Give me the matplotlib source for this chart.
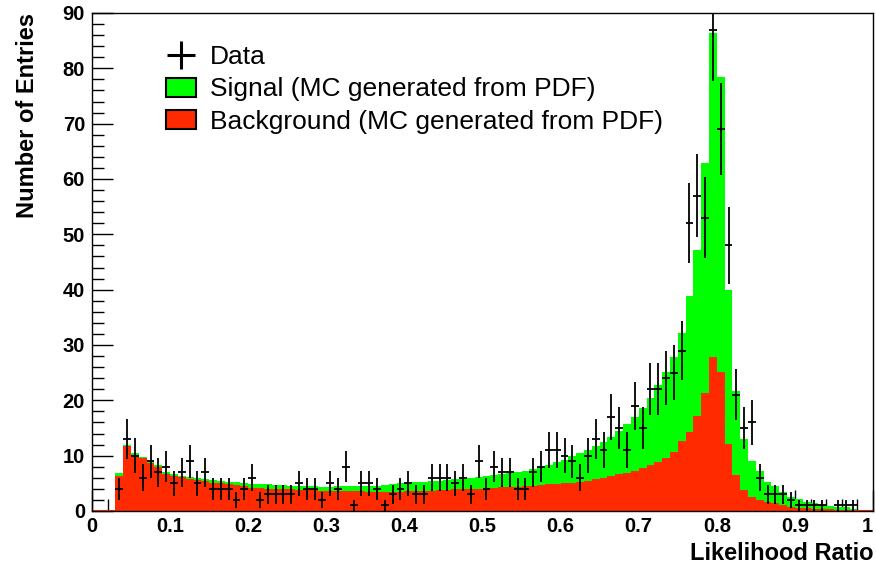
import numpy as np
import matplotlib.pyplot as plt
from matplotlib.lines import Line2D
from matplotlib.patches import Patch
from matplotlib.ticker import MultipleLocator, FixedLocator, FixedFormatter

# histogram binning: bins of 0.01 starting at 0.03
bin_width = 0.01
first_edge = 0.03

# data counts per bin (0.03 ... 0.99)
data_counts = [4, 13, 10, 6, 9, 7, 8, 5, 7, 9, 5, 7, 4, 4, 4, 2, 4,
               6, 2, 3, 3, 3, 3, 5, 4, 4, 2, 5, 4, 8, 1, 5, 5, 4, 1, 3,
               4, 5, 3, 3, 6, 6, 6, 5, 6, 3, 9, 4, 8, 7, 7, 4, 4, 7, 8,
               11, 11, 10, 9, 6, 10, 13, 11, 17, 15, 11, 19, 15, 22, 22, 24, 25, 29,
               52, 57, 53, 87, 69, 48, 21, 15, 16, 6, 3, 3, 3, 2, 1, 1, 1, 1, 0, 1, 1, 1, 0, 0]

# signal + background MC (top of green stack)
mc_total = [6.8, 12.0, 10.4, 9.8, 9.0, 8.3, 7.0, 6.6, 6.4, 6.1, 5.9, 5.8, 5.6, 5.5, 5.3, 5.2, 5.1,
            4.9, 4.8, 4.8, 4.7, 4.7, 4.6, 4.6, 4.6, 4.5, 4.4, 4.4, 4.5, 4.6, 4.6, 4.6, 4.5, 4.6, 4.7, 4.8,
            5.0, 5.1, 5.2, 5.3, 5.4, 5.5, 5.6, 5.8, 5.9, 6.0, 6.1, 6.3, 6.5, 6.7, 6.9, 7.1, 7.3, 7.6, 8.0,
            8.4, 8.8, 9.3, 9.9, 10.4, 11.0, 11.7, 12.4, 13.3, 14.4, 15.7, 17.0, 18.6, 20.5, 22.8, 25.2, 27.8, 32.2,
            38.8, 47.2, 62.9, 86.4, 78.4, 40.0, 21.6, 13.0, 9.0, 7.2, 5.3, 4.6, 3.5, 2.6, 2.1, 1.7, 1.4, 1.1,
            0.9, 0.8, 0.7, 0.4, 0.2, 0.1]

# background MC
background = [6.4, 11.8, 10.0, 9.6, 8.6, 8.0, 6.7, 6.3, 6.1, 5.8, 5.6, 5.4, 5.1, 5.0, 4.8, 4.7, 4.6,
              4.2, 4.1, 4.0, 4.0, 3.9, 3.9, 3.8, 3.8, 3.8, 3.7, 3.7, 3.7, 3.6, 3.6, 3.6, 3.5, 3.5, 3.5, 3.5,
              3.5, 3.6, 3.6, 3.7, 3.7, 3.8, 3.8, 3.9, 3.9, 4.0, 4.0, 4.1, 4.2, 4.3, 4.3, 4.4, 4.5, 4.6, 4.7,
              4.8, 4.9, 5.0, 5.0, 5.3, 5.4, 5.7, 6.0, 6.3, 6.6, 6.9, 7.3, 7.8, 8.3, 8.9, 9.6, 10.7, 12.7,
              14.3, 17.2, 21.3, 27.8, 25.2, 12.1, 6.5, 3.8, 2.6, 2.0, 1.7, 1.4, 1.1, 0.8, 0.6, 0.5, 0.4, 0.3,
              0.3, 0.2, 0.2, 0.1, 0.1, 0.1]

x_ticks = [0, 0.1, 0.2, 0.3, 0.4, 0.5, 0.6, 0.7, 0.8, 0.9, 1.0]
x_labels = ['0', '0.1', '0.2', '0.3', '0.4', '0.5', '0.6', '0.7', '0.8', '0.9', '1']

green = '#00ff00'
red = '#ff2a00'

plt.rcParams['font.family'] = ['Liberation Sans', 'DejaVu Sans']

edges = first_edge + bin_width * np.arange(len(data_counts) + 1)
centers = edges[:-1] + bin_width / 2

fig = plt.figure(figsize=(8.76, 5.63), dpi=100)
ax = fig.add_axes([92 / 876, 52 / 563, 781 / 876, 498 / 563])

ax.stairs(mc_total, edges, fill=True, color=green, zorder=2)
ax.stairs(background, edges, fill=True, color=red, zorder=2.1)
ax.plot([0, 1], [0, 0], color=red, lw=1.5, zorder=2.2)

d = np.array(data_counts, dtype=float)
m = d > 0
ax.errorbar(centers[m], d[m], xerr=bin_width / 2, yerr=np.sqrt(d[m]),
            fmt='none', ecolor='black', elinewidth=1.3, capsize=0, zorder=3)

ax.set_xlim(0, 1)
ax.set_ylim(0, 90)
ax.xaxis.set_major_locator(FixedLocator(x_ticks))
ax.xaxis.set_major_formatter(FixedFormatter(x_labels))
ax.xaxis.set_minor_locator(MultipleLocator(0.02))
ax.yaxis.set_major_locator(MultipleLocator(10))
ax.yaxis.set_minor_locator(MultipleLocator(2))
ax.tick_params(which='both', direction='in', width=1, top=False, right=False,
               labelsize=14.5, color='black')
ax.tick_params(which='major', length=15)
ax.tick_params(which='minor', length=8.5)
ax.tick_params(axis='y', pad=5)
ax.tick_params(axis='x', pad=4)
for lab in ax.get_xticklabels() + ax.get_yticklabels():
    lab.set_fontweight('bold')
ax.get_xticklabels()[-1].set_horizontalalignment('right')
for sp in ax.spines.values():
    sp.set_linewidth(1.0)
    sp.set_zorder(4)

fig.text(28 / 876, 1 - 13 / 563, 'Number of Entries', rotation=90, ha='center', va='top',
         fontsize=17, fontweight='bold')
fig.text(873 / 876, 1 - 553 / 563, 'Likelihood Ratio', ha='right', va='center',
         fontsize=17, fontweight='bold')

handles = [Line2D([], [], marker='+', markersize=20, markeredgewidth=2.2, color='black', linestyle='none'),
           Patch(facecolor=green, edgecolor='black', linewidth=1.5),
           Patch(facecolor=red, edgecolor='black', linewidth=1.5)]
labels = ['Data', 'Signal (MC generated from PDF)', 'Background (MC generated from PDF)']
ax.legend(handles, labels, loc='upper left', bbox_to_anchor=(166 / 876, 1 - 45 / 563),
          bbox_transform=fig.transFigure, frameon=False, fontsize=19, labelspacing=0.32,
          handlelength=1.15, handleheight=0.75, handletextpad=0.5, borderpad=0, borderaxespad=0)

fig.savefig('out.png', dpi=100)
